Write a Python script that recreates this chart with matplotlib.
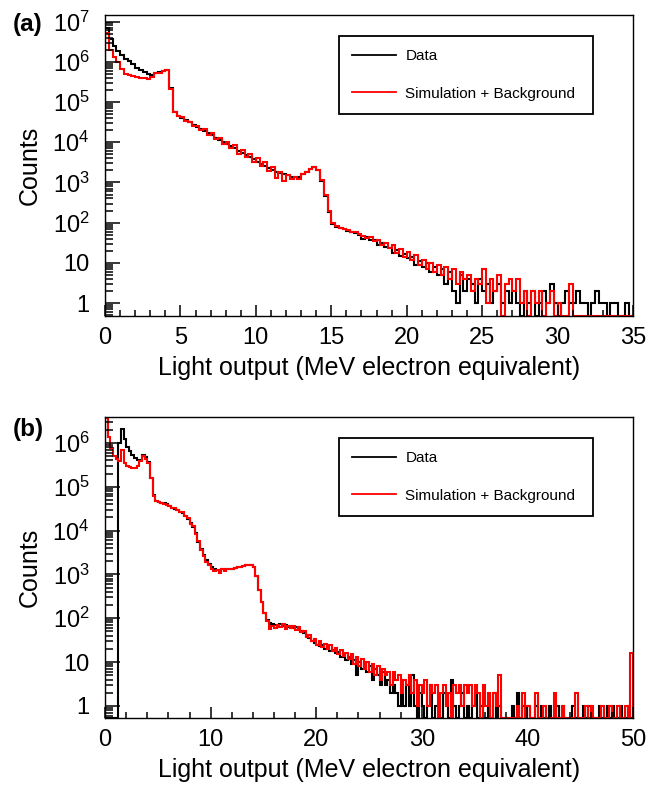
import matplotlib
matplotlib.use('Agg')
import matplotlib.pyplot as plt
import numpy as np
from matplotlib.ticker import FuncFormatter, LogLocator, MultipleLocator

plt.rcParams['font.family'] = 'Liberation Sans'
plt.rcParams['mathtext.fontset'] = 'custom'
plt.rcParams['mathtext.rm'] = 'Liberation Sans'
plt.rcParams['mathtext.it'] = 'Liberation Sans'

# bin width (MeVee) for both spectra
bw_a = 0.25
bw_b = 0.25

# panel (a) counts per bin, 0 - 35 MeVee
data_a = [7.0e6, 3.6e6, 2.5e6, 1.8e6, 1.45e6, 1.2e6, 1.05e6, 9.0e5, 7.0e5, 6.2e5,
          5.5e5, 5.0e5, 4.6e5, 5.3e5, 5.5e5, 5.8e5, 6.4e5, 2.2e5, 5.8e4, 4.6e4,
          4.1e4, 3.55e4, 3.15e4, 2.75e4, 2.45e4, 2.15e4, 1.9e4, 1.7e4, 1.48e4, 1.3e4,
          1.15e4, 1.02e4, 8.9e3, 7.9e3, 7.0e3, 6.2e3, 5.5e3, 4.8e3, 4.3e3, 3.75e3,
          3.3e3, 2.9e3, 2.5e3, 2.25e3, 2.0e3, 1.85e3, 1.75e3, 1.6e3, 1.5e3, 1.4e3,
          1.38e3, 1.4e3, 1.6e3, 1.8e3, 2.2e3, 2.45e3, 2.0e3, 1.1e3, 450, 180,
          95, 80, 72, 68, 63, 58, 55, 50, 40, 45,
          38, 37, 28, 32, 25, 23, 18, 21, 15, 17,
          13, 14, 9, 11, 8, 10, 6, 8, 5, 7,
          3, 6, 2, 1, 5, 2, 4, 3, 1, 4,
          2, 3, 1, 2, 3, 1, 2, 1, 2, 1,
          0, 2, 1, 2, 0, 1, 2, 1, 3, 1,
          0, 1, 2, 1, 1, 2, 1, 1, 0, 1,
          2, 1, 1, 0, 1, 1, 0, 0, 1, 0]
sim_a = [5.2e6, 1.95e6, 1.3e6, 1.0e6, 6.6e5, 5.0e5, 4.6e5, 4.4e5, 4.2e5, 4.0e5,
         3.9e5, 3.7e5, 4.2e5, 5.2e5, 5.4e5, 5.9e5, 6.3e5, 2.1e5, 5.8e4, 4.4e4,
         4.2e4, 3.4e4, 3.2e4, 2.6e4, 2.5e4, 2.0e4, 2.1e4, 1.5e4, 1.65e4, 1.2e4,
         1.3e4, 8.9e3, 1.0e4, 7.0e3, 8.3e3, 5.2e3, 6.3e3, 4.2e3, 5.0e3, 3.2e3,
         4.0e3, 2.5e3, 3.2e3, 1.9e3, 2.4e3, 1.3e3, 1.8e3, 1.1e3, 1.5e3, 1.2e3,
         1.4e3, 1.25e3, 1.65e3, 1.8e3, 2.15e3, 2.45e3, 2.0e3, 1.15e3, 500, 200,
         100, 83, 74, 70, 66, 60, 58, 52, 48, 42,
         44, 35, 38, 28, 32, 24, 28, 18, 22, 14,
         19, 12, 16, 9, 12, 7, 10, 6, 9, 5,
         8, 4, 7, 3, 6, 4, 5, 2, 4, 3,
         7, 1, 4, 2, 5, 0, 3, 4, 2, 4,
         1, 2, 0, 2, 1, 2, 0, 1, 2, 0,
         1, 0, 0, 3, 0, 0, 0, 0, 0, 0,
         0, 0, 0, 0, 0, 0, 0, 0, 0, 0]

# panel (b) counts per bin, 0 - 50 MeVee
data_b = [0, 0, 0, 0, 0, 1.0e6, 2.1e6, 1.2e6, 8.0e5, 6.5e5,
          5.4e5, 4.6e5, 4.0e5, 4.1e5, 5.4e5, 4.8e5, 3.6e5, 1.6e5, 6.5e4, 4.8e4,
          4.5e4, 4.3e4, 4.2e4, 4.0e4, 3.6e4, 3.3e4, 3.1e4, 2.9e4, 2.7e4, 2.5e4,
          2.2e4, 1.8e4, 1.48e4, 1.23e4, 8.9e3, 5.6e3, 3.8e3, 2.75e3, 2.15e3, 1.75e3,
          1.45e3, 1.32e3, 1.26e3, 1.26e3, 1.3e3, 1.3e3, 1.35e3, 1.32e3, 1.35e3, 1.4e3,
          1.45e3, 1.5e3, 1.55e3, 1.6e3, 1.65e3, 1.6e3, 1.45e3, 9.0e2, 4.5e2, 2.4e2,
          130, 90, 76, 72, 71, 69, 72, 66, 69, 63,
          66, 60, 63, 56, 52, 46, 40, 35, 30, 27,
          25, 23, 24, 20, 21, 18, 19, 16, 17, 13,
          15, 11, 13, 9, 11, 5, 10, 7, 9, 6,
          8, 4, 7, 5, 3, 6, 3, 4, 2, 3,
          2, 1, 2, 1, 3, 1, 5, 1, 0, 2,
          1, 0, 1, 3, 0, 1, 1, 0, 2, 1,
          0, 4, 1, 0, 1, 2, 0, 1, 0, 1,
          2, 0, 1, 0, 0, 1, 0, 2, 0, 1,
          0, 0, 0, 0, 1, 0, 2, 0, 1, 0,
          1, 0, 0, 1, 0, 1, 0, 0, 1, 0,
          0, 1, 0, 1, 0, 0, 0, 1, 0, 0,
          0, 1, 0, 1, 0, 0, 0, 1, 0, 0,
          1, 0, 1, 0, 0, 1, 0, 0, 1, 0]
sim_b = [3.8e6, 1.4e6, 7.6e5, 5.0e5, 4.2e5, 3.8e5, 6.9e5, 3.5e5, 3.0e5, 2.75e5,
         2.7e5, 2.7e5, 2.9e5, 3.8e5, 5.0e5, 4.2e5, 3.5e5, 1.6e5, 6.3e4, 4.7e4,
         4.5e4, 4.3e4, 4.1e4, 3.9e4, 3.7e4, 3.3e4, 3.2e4, 3.0e4, 2.6e4, 2.6e4,
         2.2e4, 1.9e4, 1.45e4, 1.3e4, 8.5e3, 5.8e3, 3.6e3, 2.6e3, 1.9e3, 1.6e3,
         1.3e3, 1.2e3, 1.25e3, 1.1e3, 1.3e3, 1.2e3, 1.35e3, 1.3e3, 1.35e3, 1.4e3,
         1.45e3, 1.5e3, 1.55e3, 1.6e3, 1.65e3, 1.62e3, 1.45e3, 9.0e2, 4.5e2, 2.4e2,
         130, 85, 58, 66, 60, 70, 62, 72, 58, 68,
         60, 66, 55, 62, 48, 50, 38, 42, 30, 34,
         25, 30, 22, 26, 20, 24, 18, 21, 15, 19,
         14, 16, 12, 15, 9, 13, 8, 12, 7, 10,
         6, 9, 5, 8, 4, 7, 5, 6, 3, 6,
         4, 5, 2, 4, 3, 5, 2, 4, 1, 3,
         2, 4, 1, 3, 2, 3, 0, 2, 3, 1,
         2, 0, 3, 2, 3, 1, 3, 2, 3, 1,
         3, 2, 0, 3, 1, 2, 0, 2, 1, 5,
         0, 0, 0, 0, 0, 0, 1, 0, 2, 0,
         1, 0, 0, 2, 0, 0, 1, 0, 0, 0,
         2, 0, 0, 1, 0, 0, 0, 0, 2, 0,
         0, 0, 1, 0, 1, 0, 0, 0, 1, 0,
         0, 1, 0, 0, 1, 0, 0, 1, 0, 16]

assert len(data_a) == len(sim_a) == 140, (len(data_a), len(sim_a))
assert len(data_b) == len(sim_b) == 200, (len(data_b), len(sim_b))


def log_label(v, pos):
    if v < 0.9:
        return ''
    if v < 1.5:
        return '1'
    if v < 15:
        return '10'
    return r'$10^{%d}$' % int(round(np.log10(v)))


def panel(ax, data, sim, bw, xmax, ylo, yhi, xmaj, xmin_step):
    edges = np.arange(len(data) + 1) * bw
    ax.stairs(np.clip(data, ylo, None), edges, baseline=0.1, color='black', lw=1.5)
    ax.stairs(np.clip(sim, ylo, None), edges, baseline=0.1, color='red', lw=1.5)
    ax.set_yscale('log')
    ax.set_xlim(0, xmax)
    ax.set_ylim(ylo, yhi)
    ax.xaxis.set_major_locator(MultipleLocator(xmaj))
    ax.xaxis.set_minor_locator(MultipleLocator(xmin_step))
    ax.yaxis.set_major_locator(LogLocator(base=10, numticks=20))
    ax.yaxis.set_minor_locator(LogLocator(base=10, subs=np.arange(2, 10), numticks=20))
    ax.yaxis.set_major_formatter(FuncFormatter(log_label))
    ax.yaxis.set_minor_formatter(FuncFormatter(lambda v, p: ''))
    ax.tick_params(which='both', direction='in', top=False, right=False,
                   labelsize=17, width=1.1)
    ax.tick_params(axis='y', which='major', length=11, pad=11)
    ax.tick_params(axis='y', which='minor', length=6)
    ax.tick_params(axis='x', which='major', length=8, pad=8)
    ax.tick_params(axis='x', which='minor', length=4)
    for s in ax.spines.values():
        s.set_linewidth(1.0)
    ax.set_xlabel('Light output (MeV electron equivalent)', fontsize=18, labelpad=5)
    ax.set_ylabel('Counts', fontsize=18)
    ax.yaxis.set_label_coords(-0.12, 0.5)
    leg = ax.legend(['Data', 'Simulation + Background'], loc='upper left',
                    bbox_to_anchor=(0.443, 0.93, 0.481, 0.0), mode='expand',
                    fontsize=11, frameon=True, fancybox=False, framealpha=1,
                    edgecolor='black', handlelength=2.9, handletextpad=0.6,
                    labelspacing=1.55, borderpad=0.85, borderaxespad=0)
    leg.get_frame().set_linewidth(1.3)
    for h in leg.legend_handles:
        h.set_linewidth(1.3)


fig = plt.figure(figsize=(6.61, 7.91), dpi=100)
ax1 = fig.add_axes([0.1589, 0.6005, 0.7987, 0.3805])
ax2 = fig.add_axes([0.1589, 0.0923, 0.7987, 0.3805])

panel(ax1, data_a, sim_a, bw_a, 35, 0.48, 1.45e7, 5, 1)
panel(ax2, data_b, sim_b, bw_b, 50, 0.53, 3.9e6, 10, 2)

fig.text(0.02, 0.969, '(a)', fontsize=17.5, fontweight='bold', va='center')
fig.text(0.02, 0.457, '(b)', fontsize=17.5, fontweight='bold', va='center')

fig.savefig('out.png', dpi=100)
